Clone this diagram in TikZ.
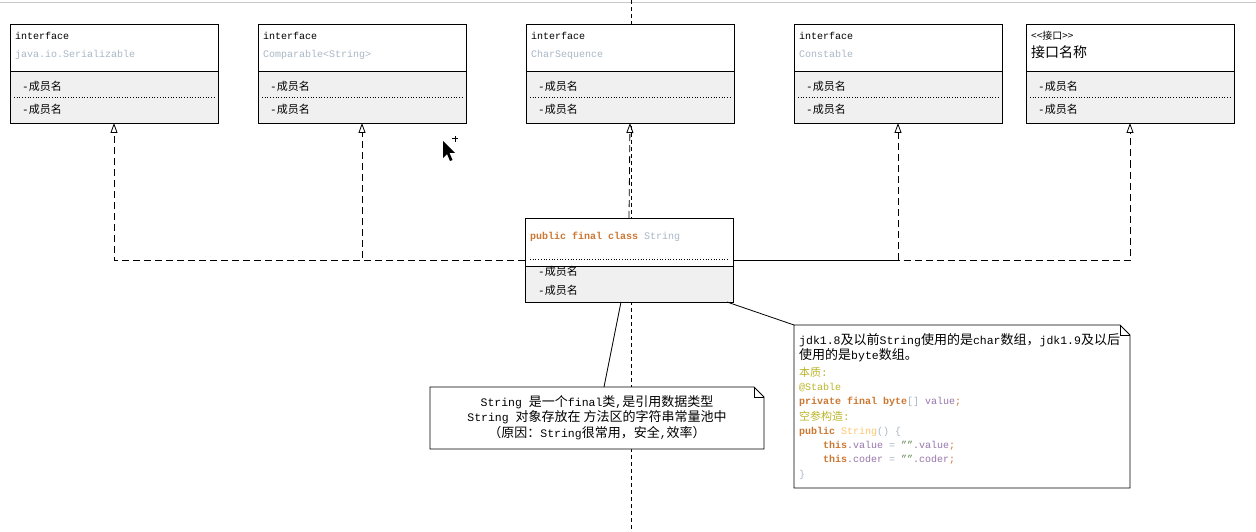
\documentclass[tikz,border=0pt]{standalone}
\usepackage{fontspec}
\setmainfont{Liberation Mono}
\newfontfamily\cjk{Noto Sans CJK SC}
\usetikzlibrary{arrows.meta,calc}
\definecolor{kw}{HTML}{CC7832}
\definecolor{idn}{HTML}{A9B7C6}
\definecolor{ann}{HTML}{BBB529}
\definecolor{fld}{HTML}{9876AA}
\definecolor{strc}{HTML}{6A8759}
\definecolor{mth}{HTML}{FFC66D}
\definecolor{bodyfill}{HTML}{F0F0F0}
\definecolor{topline}{HTML}{C8C8C8}
\newcommand\zh[1]{{\cjk #1}}
\newcommand\zhb[1]{{\fontsize{13}{15}\selectfont\cjk #1}}
\tikzset{
  umlbox/.style={draw=black, line width=0.8pt, minimum width=208pt, inner sep=0pt, outer sep=0pt},
  sepline/.style={dotted, line width=0.7pt},
  code/.style={font=\fontsize{10}{12}\selectfont, inner sep=0pt, anchor=base west},
  mem/.style={font=\fontsize{11}{13}\selectfont, inner sep=0pt, anchor=base west},
  notetext/.style={font=\fontsize{11.5}{13}\selectfont, inner sep=0pt, anchor=base},
  notebox/.style={inner sep=0pt, outer sep=0pt, anchor=north west},
  dep/.style={line width=0.8pt, dash pattern=on 7pt off 4pt, -{Triangle[open, width=7pt, length=10pt]}},
  pagebreak/.style={line width=0.9pt, dash pattern=on 4pt off 3pt},
  link/.style={line width=0.8pt}
}
\newcommand\ifacebox[4]{%
  \fill[white] (#2,24) rectangle (#2+208,71);
  \fill[bodyfill] (#2,71) rectangle (#2+208,123);
  \draw[sepline] (#2+4,97) -- (#2+204,97);
  \node[umlbox, minimum height=99pt, anchor=north west] (#1) at (#2,24) {};
  \draw[line width=0.8pt] (#2,71) -- (#2+208,71);
  \node[code] (#1-a) at (#2+5,40) {#3};
  \node[code] (#1-b) at (#2+5,58) {#4};
  \node[mem] (#1-m1) at (#2+12,91) {-\zh{成员名}};
  \node[mem] (#1-m2) at (#2+12,114) {-\zh{成员名}};
}
\begin{document}
\begin{tikzpicture}[x=1pt, y=-1pt]
\useasboundingbox (0,0) rectangle (1256,532);
\fill[white] (0,0) rectangle (1256,532);
\draw[topline, line width=1pt] (0,3) -- (1256,3);
\draw[pagebreak] (631,0) -- (631,532);

% interface boxes
\ifacebox{ser}{10}{interface}{\color{idn}java.io.Serializable}
\ifacebox{cmp}{258}{interface}{\color{idn}Comparable<String>}
\ifacebox{cs}{526}{interface}{\color{idn}CharSequence}
\ifacebox{con}{794}{interface}{\color{idn}Constable}
\ifacebox{jk}{1026}{\fontsize{10}{12}\selectfont\zh{<<接口>>}}{\fontsize{14}{16}\selectfont\zh{接口名称}}

% String class box
\fill[white] (525,218) rectangle (733,266);
\fill[bodyfill] (525,266) rectangle (733,302);
\node[umlbox, minimum height=84pt, anchor=north west] (str) at (525,218) {};
\draw[sepline] (530,259) -- (729,259);
\draw[line width=0.8pt] (525,266) -- (733,266);
\node[code] (str-a) at (530,239) {\textcolor{kw}{\bfseries public final class} \textcolor{idn}{String}};
\node[mem] (str-m1) at (538,275) {-\zh{成员名}};
\node[mem] (str-m2) at (538,294) {-\zh{成员名}};

% realization connectors
\draw[dep] (str.west) -| (ser.south);
\draw[dep] (str.west) -| (cmp.south);
\draw[dep] (str.north) -- (cs.south);
\draw[dep] (str.east) -| (con.south);
\draw[dep, dash phase=5.5pt] (str.east) -| (jk.south);

% note 1
\node[notebox, minimum width=334pt, minimum height=62pt] (n1) at (430,387) {};
\draw[link, fill=white] (n1.north west) -- ([xshift=-10pt]n1.north east) -- ([yshift=-10pt]n1.north east) -- (n1.south east) -- (n1.south west) -- cycle;
\draw[link] ([xshift=-10pt]n1.north east) -- ([xshift=-10pt, yshift=-10pt]n1.north east) -- ([yshift=-10pt]n1.north east);
\node[notetext] (n1-a) at (597,406.5) {String \zhb{是一个}final\zhb{类},\zhb{是引用数据类型}};
\node[notetext] (n1-b) at (597,421) {String \zhb{对象存放在 方法区的字符串常量池中}};
\node[notetext] (n1-c) at (597,437) {\zhb{（原因：}String\zhb{很常用，安全},\zhb{效率）}};

% note 2
\node[notebox, minimum width=336pt, minimum height=163pt] (n2) at (794,325) {};
\draw[link, fill=white] (n2.north west) -- ([xshift=-10pt]n2.north east) -- ([yshift=-10pt]n2.north east) -- (n2.south east) -- (n2.south west) -- cycle;
\draw[link] ([xshift=-10pt]n2.north east) -- ([xshift=-10pt, yshift=-10pt]n2.north east) -- ([yshift=-10pt]n2.north east);
\node[code, font=\fontsize{11.5}{13}\selectfont] (n2-1) at (799,344) {jdk1.8\zhb{及以前}String\zhb{使用的是}char\zhb{数组，}jdk1.9\zhb{及以后}};
\node[code, font=\fontsize{11.5}{13}\selectfont] (n2-2) at (799,359) {\zhb{使用的是}byte\zhb{数组。}};
\node[mem, text=ann] (n2-3) at (799,376) {\zh{本质}:};
\node[code, text=ann] (n2-4) at (799,390) {@Stable};
\node[code] (n2-5) at (799,404) {\textcolor{kw}{\bfseries private final byte}\textcolor{idn}{[]} \textcolor{fld}{value}\textcolor{kw}{;}};
\node[mem, text=ann] (n2-6) at (799,420) {\zh{空参构造}:};
\node[code] (n2-7) at (799,434) {\textcolor{kw}{\bfseries public} \textcolor{mth}{String}\textcolor{idn}{() \{}};
\node[code] (n2-8) at (823,448) {\textcolor{kw}{\bfseries this}\textcolor{fld}{.value} \textcolor{idn}{=} \textcolor{strc}{""}\textcolor{fld}{.value}\textcolor{kw}{;}};
\node[code] (n2-9) at (823,462) {\textcolor{kw}{\bfseries this}\textcolor{fld}{.coder} \textcolor{idn}{=} \textcolor{strc}{""}\textcolor{fld}{.coder}\textcolor{kw}{;}};
\node[code, text=idn] (n2-10) at (799,477) {\}};

% note links
\draw[link] ([xshift=-8pt]str.south) -- ([xshift=7pt]n1.north);
\draw[link] ([xshift=-6pt]str.south east) -- (n2.north west);

% mouse cursor
\fill[black] (443,141) -- (443,158) -- (447,154) -- (450,161) -- (452.5,160) -- (449.5,153) -- (455,153) -- cycle;
\draw[line width=1pt] (452,139) -- (458,139) (455,136) -- (455,142);
\end{tikzpicture}
\end{document}
